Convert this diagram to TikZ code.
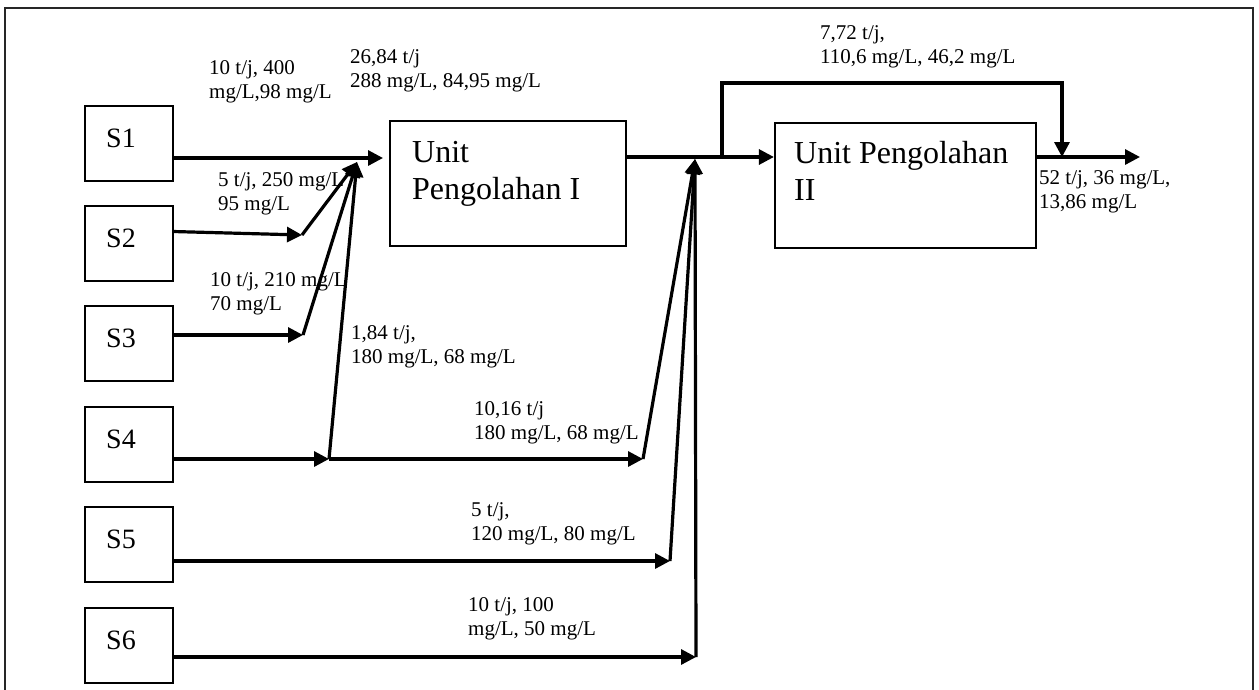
\documentclass[tikz,border=0pt]{standalone}
\usepackage{fontspec}
\setmainfont{Liberation Serif}
\usetikzlibrary{arrows.meta}
\begin{document}
\begin{tikzpicture}[x=1pt,y=-1pt,
  frame/.style={line width=2pt,draw=black!85},
  sbox/.style={draw,line width=2.2pt,minimum width=88pt,minimum height=75pt,inner sep=0pt},
  ubox/.style={draw,line width=2.2pt,inner sep=0pt},
  slabel/.style={font=\fontsize{28}{32}\selectfont,anchor=base west,inner sep=0pt},
  ulabel/.style={font=\fontsize{32}{37}\selectfont,anchor=base west,inner sep=0pt,align=left},
  flabel/.style={font=\fontsize{21}{24}\selectfont,anchor=base west,inner sep=0pt,align=left},
  flow/.style={line width=3.2pt,-{Triangle[length=15pt,width=15pt]}}
]
\useasboundingbox (0,0) rectangle (1259,689);
% frame (open at bottom)
\draw[frame] (5,692) -- (5,8) -- (1253,8) -- (1253,692);

% source boxes
\node[sbox] (s1) at (129,143.5) {};
\node[sbox] (s2) at (129,243.5) {};
\node[sbox] (s3) at (129,343.5) {};
\node[sbox] (s4) at (129,444.5) {};
\node[sbox] (s5) at (129,544.5) {};
\node[sbox] (s6) at (129,645.5) {};
\node[slabel] (t1) at (106,147) {S1};
\node[slabel] (t2) at (106,247) {S2};
\node[slabel] (t3) at (106,347) {S3};
\node[slabel] (t4) at (106,448) {S4};
\node[slabel] (t5) at (106,548) {S5};
\node[slabel] (t6) at (106,649) {S6};

% treatment units
\node[ubox,minimum width=236pt,minimum height=125pt] (u1) at (508,183.5) {};
\node[ubox,minimum width=261pt,minimum height=125pt] (u2) at (905.5,185.5) {};
\node[ulabel] (u1t) at (412,199) {Unit\\Pengolahan I};
\node[ulabel] (u2t) at (794,200) {Unit Pengolahan\\II};

% helper coordinates
\coordinate (a1) at (383,158);
\coordinate (m1) at (357,162);
\coordinate (c2) at (302,235);
\coordinate (c3) at (303,335);
\coordinate (c4) at (329,459);
\coordinate (c4b) at (643,459);
\coordinate (c5) at (670,561);
\coordinate (c6) at (696,657);
\coordinate (j) at (695,159);
\coordinate (b) at (722,157);
\coordinate (bt1) at (722,83);
\coordinate (bt2) at (1062,83);
\coordinate (o) at (1062,157);
\coordinate (oe) at (1140,157);

% flows into unit I
\draw[flow] (s1.east |- a1) -- (a1);
\draw[flow] (173,231.5) -- (c2);
\draw[flow] (c2) -- (m1);
\draw[flow] (s3.east |- c3) -- (c3);
\draw[flow] (c3) -- (m1);
\draw[flow] (s4.east |- c4) -- (c4);
\draw[flow] (c4) -- (m1);

% flows to junction before unit II
\draw[flow] (c4) -- (c4b);
\draw[flow] (c4b) -- (j);
\draw[flow] (s5.east |- c5) -- (c5);
\draw[flow] (c5) -- (j);
\draw[flow] (s6.east |- c6) -- (c6);
\draw[flow] (c6) -- (j);

% main line and bypass
\draw[flow] (u1.east |- b) -- (u2.west |- b);
\draw[flow] (b) -- (bt1) -- (bt2) -- (o);
\draw[flow] (u2.east |- o) -- (oe);

% labels
\node[flabel] (l1) at (209,98) {10 t/j, 400\\mg/L,98 mg/L};
\node[flabel] (l2) at (350,87) {26,84 t/j\\288 mg/L, 84,95 mg/L};
\node[flabel] (l3) at (218,210) {5 t/j, 250 mg/L\\95 mg/L};
\node[flabel] (l4) at (210,310) {10 t/j, 210 mg/L\\70 mg/L};
\node[flabel] (l5) at (351,363) {1,84 t/j,\\180 mg/L, 68 mg/L};
\node[flabel] (l6) at (474,439) {10,16 t/j\\180 mg/L, 68 mg/L};
\node[flabel] (l7) at (471,540) {5 t/j,\\120 mg/L, 80 mg/L};
\node[flabel] (l8) at (468,635) {10 t/j, 100\\mg/L, 50 mg/L};
\node[flabel] (l9) at (820,63) {7,72 t/j,\\110,6 mg/L, 46,2 mg/L};
\node[flabel] (l10) at (1039,208) {52 t/j, 36 mg/L,\\13,86 mg/L};
\end{tikzpicture}
\end{document}
